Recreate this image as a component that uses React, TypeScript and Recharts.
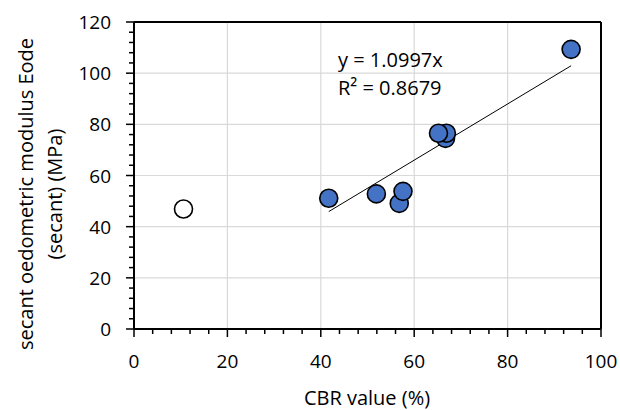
import React from 'react';
import {
  ScatterChart,
  Scatter,
  XAxis,
  YAxis,
  CartesianGrid,
  ReferenceLine,
  Customized,
} from 'recharts';

// measured points (CBR %, Eode MPa)
const cbrValues = [41.7, 51.9, 56.8, 57.6, 66.7, 66.9, 65.2, 93.6];
const eodeValues = [51.1, 52.8, 49.1, 53.8, 74.5, 76.5, 76.5, 109.3];

// excluded point (open marker)
const outlierCbr = [10.6];
const outlierEode = [46.9];

// trendline y = 1.0997x, drawn over the fitted range
const trendX = [41.7, 93.6];
const trendY = [45.9, 102.9];
const trendLabel = 'y = 1.0997x';
const r2Label = 'R² = 0.8679';

const xMajor = [0, 20, 40, 60, 80, 100];
const yMajor = [0, 20, 40, 60, 80, 100, 120];
const xMinor = [0, 4, 8, 12, 16, 20, 24, 28, 32, 36, 40, 44, 48, 52, 56, 60, 64, 68, 72, 76, 80, 84, 88, 92, 96, 100];
const yMinor = [0, 4, 8, 12, 16, 20, 24, 28, 32, 36, 40, 44, 48, 52, 56, 60, 64, 68, 72, 76, 80, 84, 88, 92, 96, 100, 104, 108, 112, 116, 120];

const points = cbrValues.map((x, i) => ({ x, y: eodeValues[i] }));
const outliers = outlierCbr.map((x, i) => ({ x, y: outlierEode[i] }));

const FONT = '"Open Sans", sans-serif';
const TEXT = '#000';

const XTick = (props: any) => {
  const { x, y, payload } = props;
  const major = payload.value % 20 === 0;
  return (
    <g>
      <line x1={x} x2={x} y1={y} y2={y + (major ? 8 : 5)} stroke="#000" strokeWidth={1.5} />
      {major && (
        <text x={x} y={y + 39} textAnchor="middle" fontSize={19} fontFamily={FONT} fill={TEXT}>
          {payload.value}
        </text>
      )}
    </g>
  );
};

const YTick = (props: any) => {
  const { x, y, payload } = props;
  const major = payload.value % 20 === 0;
  return (
    <g>
      <line x1={x} x2={x - (major ? 8 : 5)} y1={y} y2={y} stroke="#000" strokeWidth={1.5} />
      {major && (
        <text x={x - 23} y={y + 7} textAnchor="end" fontSize={19} fontFamily={FONT} fill={TEXT}>
          {payload.value}
        </text>
      )}
    </g>
  );
};

const Dot = (fill: string) => (props: any) => (
  <circle cx={props.cx} cy={props.cy} r={9} fill={fill} stroke="#000" strokeWidth={1.6} />
);

const Labels = () => (
  <g fontFamily={FONT} fill={TEXT}>
    <text x={338} y={67} fontSize={20}>{trendLabel}</text>
    <text x={338} y={95} fontSize={20}>{r2Label}</text>
    <text x={367} y={405} fontSize={20} textAnchor="middle">CBR value (%)</text>
    <g transform="translate(33,194) rotate(-90)">
      <text x={0} y={0} fontSize={20} textAnchor="middle">secant oedometric modulus Eode</text>
      <text x={0} y={29} fontSize={20} textAnchor="middle">(secant) (MPa)</text>
    </g>
  </g>
);

const App = () => {
  return (
    <div style={{ position: 'absolute', left: 0, top: 0, background: '#fff' }}>
      <ScatterChart width={620} height={410} margin={{ top: 22, right: 19, left: 0, bottom: 0 }}>
        <CartesianGrid
          stroke="#d9d9d9"
          strokeWidth={1.2}
          horizontalValues={[20, 40, 60, 80, 100]}
          verticalValues={[20, 40, 60, 80]}
        />
        <XAxis
          type="number"
          dataKey="x"
          domain={[0, 100]}
          ticks={xMinor}
          interval={0}
          height={81}
          tickSize={0}
          tickMargin={0}
          tickLine={false}
          axisLine={{ stroke: '#000', strokeWidth: 2 }}
          tick={<XTick />}
        />
        <YAxis
          type="number"
          dataKey="y"
          domain={[0, 120]}
          ticks={yMinor}
          interval={0}
          width={134}
          tickSize={0}
          tickMargin={0}
          tickLine={false}
          axisLine={{ stroke: '#000', strokeWidth: 2 }}
          tick={<YTick />}
        />
        <ReferenceLine y={120} stroke="#000" strokeWidth={2} />
        <ReferenceLine x={100} stroke="#000" strokeWidth={2} />
        <ReferenceLine
          segment={[
            { x: trendX[0], y: trendY[0] },
            { x: trendX[1], y: trendY[1] },
          ]}
          stroke="#000"
          strokeWidth={1}
        />
        <Scatter data={outliers} shape={Dot('#fff')} isAnimationActive={false} />
        <Scatter data={points} shape={Dot('#4472C4')} isAnimationActive={false} />
        <Customized component={Labels} />
      </ScatterChart>
    </div>
  );
};

export default App;
